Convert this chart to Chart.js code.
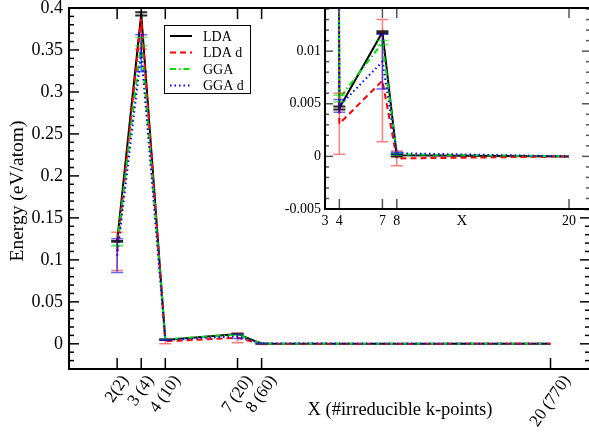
<!DOCTYPE html>
<html>
<head>
<meta charset="utf-8">
<script src="https://cdn.jsdelivr.net/npm/chart.js@4.4.1/dist/chart.umd.min.js"></script>
<style>
html, body { margin: 0; padding: 0; background: #fff; overflow: hidden; width: 589px; height: 435px; }
#main { position: absolute; left: 0; top: 0; }
#inset { position: absolute; left: 250px; top: 0; }
</style>
</head>
<body>
<canvas id="main" width="595" height="435"></canvas>
<canvas id="inset" width="345" height="235"></canvas>
<script>
// k-point grids (and number of irreducible k-points)
const kpoints = [2, 3, 4, 7, 8, 20];
const kLabels = ["2(2)", "3 (4)", "4 (10)", "7 (20)", "8 (60)", "20 (770)"];
const insetTicksX = [3, 4, 7, 8, 20];
const mainTicksY = [0, 0.05, 0.1, 0.15, 0.2, 0.25, 0.3, 0.35, 0.4];
const insetTicksY = [-0.005, 0, 0.005, 0.01];

// energies (eV/atom) and error bars
const lda      = [0.122, 0.393, 0.0046, 0.0118, 0.0001, 0];
const ldaErr   = [0.0005, 0.002, 0.00015, 0.0001, 0.0001, 0];
const ldaD     = [0.110, 0.388, 0.0031, 0.0072, -0.0002, 0];
const ldaDErr  = [0.0228, 0.037, 0.0029, 0.0058, 0.0007, 0];
const gga      = [0.117, 0.360, 0.0055, 0.0108, 0.0002, 0];
const ggaErr   = [0.0005, 0.005, 0.0003, 0.0002, 0.0001, 0];
const ggaD     = [0.105, 0.346, 0.0048, 0.0090, 0.0003, 0];
const ggaDErr  = [0.020, 0.022, 0.0006, 0.0026, 0.0001, 0];

const SERIF = "'Liberation Serif', 'Times New Roman', serif";

const series = [
    { label: "LDA",   values: lda,  err: ldaErr,  color: "#000000", errColor: "rgba(0,0,0,0.85)",   dash: [] },
    { label: "LDA d", values: ldaD, err: ldaDErr, color: "#ff0000", errColor: "rgba(255,0,0,0.5)",  dash: [6, 4] },
    { label: "GGA",   values: gga,  err: ggaErr,  color: "#00e000", errColor: "rgba(0,230,0,0.6)",  dash: [6, 3, 1.5, 3] },
    { label: "GGA d", values: ggaD, err: ggaDErr, color: "#0000ff", errColor: "rgba(0,0,255,0.6)",  dash: [1.5, 3] },
];

function makeDatasets() {
    return series.map((s, i) => ({
        label: s.label,
        data: kpoints.map((x, j) => ({ x: x, y: s.values[j] })),
        errors: s.err,
        errColor: s.errColor,
        borderColor: s.color,
        borderDash: s.dash,
        borderWidth: 2,
        pointRadius: 0,
        tension: 0,
        fill: false,
        clip: 0,
        order: series.length - i,
    }));
}

const fmt = (v) => String(Number(v.toFixed(4)));

// vertical error bars with caps, drawn on the chart's own scales
const errorBars = {
    id: "errorBars",
    afterDatasetsDraw(chart) {
        const { ctx, chartArea: a, scales: { x, y } } = chart;
        ctx.save();
        ctx.beginPath();
        ctx.rect(a.left, a.top, a.right - a.left, a.bottom - a.top);
        ctx.clip();
        chart.data.datasets.forEach((ds) => {
            ctx.strokeStyle = ds.errColor;
            ctx.lineWidth = ds.label === "LDA" ? 2 : 1.5;
            ctx.setLineDash([]);
            ds.data.forEach((p, i) => {
                const e = ds.errors[i];
                if (!e) return;
                const px = x.getPixelForValue(p.x);
                const hi = y.getPixelForValue(p.y + e);
                const lo = y.getPixelForValue(p.y - e);
                ctx.beginPath();
                ctx.moveTo(px, hi); ctx.lineTo(px, lo);
                ctx.moveTo(px - 6, hi); ctx.lineTo(px + 6, hi);
                ctx.moveTo(px - 6, lo); ctx.lineTo(px + 6, lo);
                ctx.stroke();
            });
        });
        ctx.restore();
    },
};

// box, inward tick marks, titles, slanted x labels and legend
function framePlugin(cfg) {
    return {
        id: "frame",
        beforeDraw(chart) {
            if (!cfg.fill) return;
            const { ctx, chartArea: a } = chart;
            ctx.save();
            ctx.fillStyle = "#fff";
            ctx.fillRect(a.left, a.top, a.right - a.left, a.bottom - a.top);
            ctx.restore();
        },
        afterDraw(chart) {
            const { ctx, chartArea: a, scales: { x, y } } = chart;
            const seg = (x1, y1, x2, y2) => { ctx.beginPath(); ctx.moveTo(x1, y1); ctx.lineTo(x2, y2); ctx.stroke(); };
            ctx.save();
            ctx.setLineDash([]);
            ctx.strokeStyle = cfg.tickColor;
            ctx.lineWidth = 1.5;
            cfg.xTicks.forEach((v) => {
                const px = x.getPixelForValue(v);
                seg(px, a.bottom, px, a.bottom - cfg.xLen);
                seg(px, a.top, px, a.top + cfg.xLen);
            });
            for (let k = Math.ceil(y.min / cfg.minorStep - 1e-6); k * cfg.minorStep <= y.max + 1e-9; k++) {
                const v = k * cfg.minorStep;
                const major = Math.abs(v / cfg.majorStep - Math.round(v / cfg.majorStep)) < 1e-6;
                const len = major ? cfg.yLen : cfg.yLen / 2;
                const py = y.getPixelForValue(v);
                seg(a.left, py, a.left + len, py);
                seg(a.right, py, a.right - len, py);
            }
            ctx.strokeStyle = "#000";
            ctx.lineWidth = 2;
            ctx.strokeRect(a.left, a.top, a.right - a.left, a.bottom - a.top);

            ctx.fillStyle = "#000";
            ctx.textBaseline = "middle";
            ctx.textAlign = "center";
            (cfg.texts || []).forEach((t) => {
                ctx.save();
                ctx.font = t.font;
                ctx.translate(t.x, t.y);
                ctx.rotate(t.rot || 0);
                ctx.fillText(t.text, 0, 0);
                ctx.restore();
            });

            // slanted tick labels, box centred under each tick
            if (cfg.slanted) {
                const S = cfg.slanted;
                const ang = S.angle * Math.PI / 180;
                ctx.font = S.size + "px " + SERIF;
                S.ticks.forEach((v, i) => {
                    const w = ctx.measureText(S.labels[i]).width;
                    const h = S.size * 0.7;
                    const bh = w * Math.sin(ang) + h * Math.cos(ang);
                    ctx.save();
                    ctx.translate(x.getPixelForValue(v), a.bottom + S.gap + bh / 2);
                    ctx.rotate(-ang);
                    ctx.fillText(S.labels[i], 0, 0);
                    ctx.restore();
                });
            }

            if (cfg.legend) {
                const L = cfg.legend;
                ctx.fillStyle = "#fff";
                ctx.fillRect(L.x, L.y, L.w, L.h);
                ctx.strokeStyle = "#000";
                ctx.lineWidth = 1;
                ctx.strokeRect(L.x + 0.5, L.y + 0.5, L.w, L.h);
                ctx.font = "14px " + SERIF;
                ctx.textAlign = "left";
                chart.data.datasets.forEach((ds, i) => {
                    const ly = L.y + 11 + i * 16.5;
                    ctx.strokeStyle = ds.borderColor;
                    ctx.lineWidth = 2;
                    ctx.setLineDash(ds.borderDash);
                    seg(L.x + 6, ly, L.x + 28, ly);
                    ctx.setLineDash([]);
                    ctx.fillStyle = "#000";
                    ctx.fillText(ds.label, L.x + 39, ly + 1);
                });
            }
            ctx.restore();
        },
    };
}

Chart.defaults.plugins.legend.display = false;
Chart.defaults.plugins.tooltip.enabled = false;
Chart.defaults.color = "#000";

const fixX = (h) => (s) => { s.height = h; s.paddingLeft = 0; s.paddingRight = 0; };
const fixY = (w) => (s) => { s.width = w; s.paddingTop = 0; s.paddingBottom = 0; };

new Chart(document.getElementById("main"), {
    type: "line",
    data: { datasets: makeDatasets() },
    options: {
        responsive: false,
        animation: false,
        layout: { padding: { top: 8, right: 5, left: 0, bottom: 0 } },
        scales: {
            x: {
                type: "linear",
                min: 0,
                max: 21.64,
                grid: { display: false, drawTicks: false },
                border: { display: false },
                afterBuildTicks: (s) => { s.ticks = kpoints.map((v) => ({ value: v })); },
                afterFit: fixX(66),
                ticks: { display: false },
            },
            y: {
                min: -0.03,
                max: 0.4,
                grid: { display: false, drawTicks: false },
                border: { display: false },
                afterBuildTicks: (s) => { s.ticks = mainTicksY.map((v) => ({ value: v })); },
                afterFit: fixY(69),
                ticks: {
                    padding: 6,
                    font: { family: SERIF, size: 18 },
                    callback: (v) => fmt(v),
                },
            },
        },
    },
    plugins: [
        errorBars,
        framePlugin({
            tickColor: "#000",
            xTicks: kpoints,
            xLen: 11,
            yLen: 10,
            majorStep: 0.05,
            minorStep: 0.01,
            texts: [
                { text: "Energy (eV/atom)", x: 18, y: 191, rot: -Math.PI / 2, font: "19.5px " + SERIF },
                { text: "X (#irreducible k-points)", x: 400, y: 410, font: "18.5px " + SERIF },
            ],
            slanted: { ticks: kpoints, labels: kLabels, angle: 55, size: 17, gap: 5 },
            legend: { x: 164, y: 25, w: 86, h: 68 },
        }),
    ],
});

new Chart(document.getElementById("inset"), {
    type: "line",
    data: { datasets: makeDatasets() },
    options: {
        responsive: false,
        animation: false,
        layout: { padding: { top: 8, right: 5, left: 0, bottom: 0 } },
        scales: {
            x: {
                type: "linear",
                min: 3,
                max: 21.46,
                grid: { display: false, drawTicks: false },
                border: { display: false },
                afterBuildTicks: (s) => { s.ticks = insetTicksX.map((v) => ({ value: v })); },
                afterFit: fixX(26),
                ticks: {
                    autoSkip: false,
                    maxRotation: 0,
                    padding: 4,
                    font: { family: SERIF, size: 14 },
                    callback: (v) => String(v),
                },
            },
            y: {
                min: -0.005,
                max: 0.0141,
                grid: { display: false, drawTicks: false },
                border: { display: false },
                afterBuildTicks: (s) => { s.ticks = insetTicksY.map((v) => ({ value: v })); },
                afterFit: fixY(75),
                ticks: {
                    padding: 4,
                    font: { family: SERIF, size: 14 },
                    callback: (v) => fmt(v),
                },
            },
        },
    },
    plugins: [
        errorBars,
        framePlugin({
            fill: true,
            tickColor: "#555",
            xTicks: insetTicksX,
            xLen: 10,
            yLen: 8,
            majorStep: 0.005,
            minorStep: 0.001,
            texts: [
                { text: "X", x: 212, y: 221, font: "15px " + SERIF },
            ],
        }),
    ],
});
</script>
</body>
</html>
